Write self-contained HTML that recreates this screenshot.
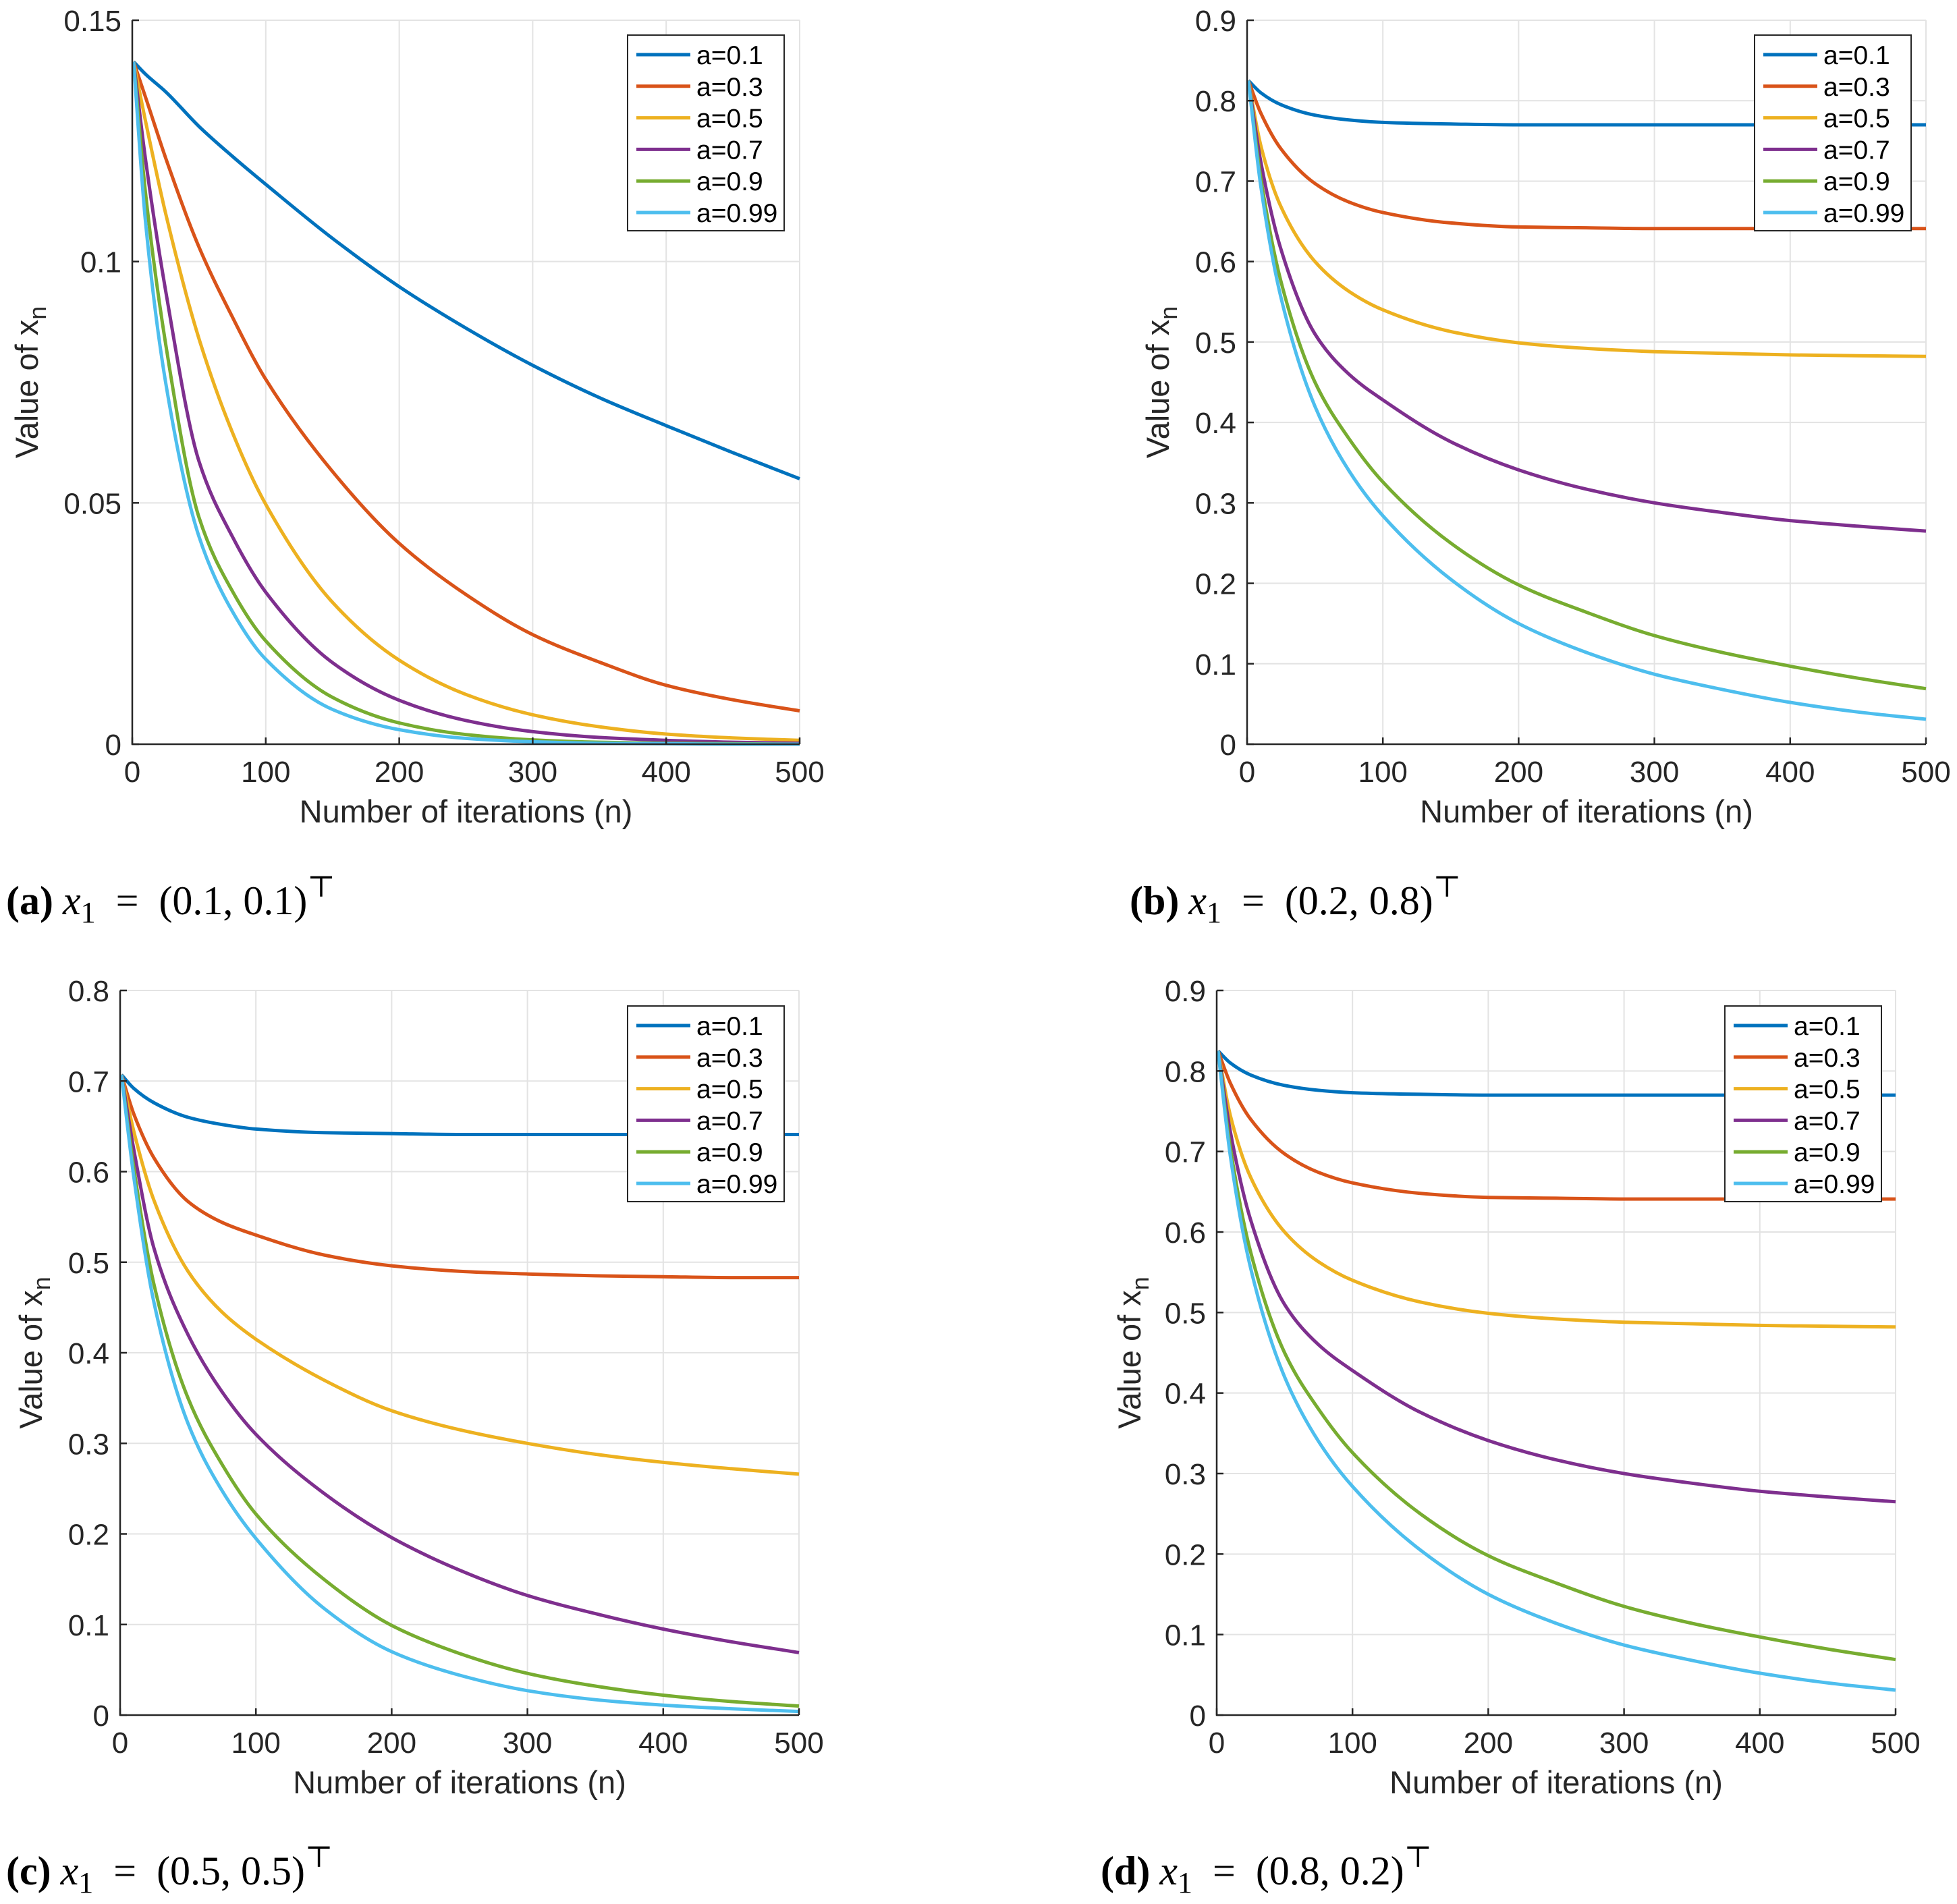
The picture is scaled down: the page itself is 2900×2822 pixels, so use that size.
<!DOCTYPE html>
<html><head><meta charset="utf-8">
<style>
html,body{margin:0;padding:0;background:#fff;}
svg{display:block;}
</style></head>
<body>
<svg id="fig" width="2900" height="2822" viewBox="0 0 2900 2822" xmlns="http://www.w3.org/2000/svg"></svg>
<script>
const iterN = [1,10,25,50,75,100,150,200,250,300,350,400,450,500];
const legendLabels = ["a=0.1","a=0.3","a=0.5","a=0.7","a=0.9","a=0.99"];
const seriesColors = ["#0072BD","#D95319","#EDB120","#7E2F8E","#77AC30","#4DBEEE"];
const xTicks = [0,100,200,300,400,500];

const panelA_a01 = [0.1414,0.1388,0.1352,0.128,0.1218,0.116,0.1048,0.0948,0.0862,0.0785,0.0718,0.066,0.0604,0.055];
const panelA_a03 = [0.1414,0.134,0.1215,0.103,0.0885,0.0756,0.0565,0.0416,0.031,0.0227,0.017,0.0122,0.0092,0.0069];
const panelA_a05 = [0.1414,0.129,0.11,0.084,0.0646,0.0497,0.0294,0.0174,0.0103,0.0061,0.0036,0.0021,0.0013,0.0008];
const panelA_a07 = [0.1414,0.121,0.094,0.0586,0.043,0.0315,0.0169,0.0091,0.0049,0.0026,0.0014,0.0008,0.0004,0.0002];
const panelA_a09 = [0.1414,0.114,0.083,0.047,0.0317,0.0214,0.0097,0.0044,0.002,0.0009,0.0004,0.0002,0.0001,0];
const panelA_a099 = [0.1414,0.108,0.075,0.043,0.0275,0.0176,0.0072,0.003,0.0012,0.0005,0.0002,0.0001,0,0];
const panelA_yTicks = [0,0.05,0.1,0.15];
const panelA_yTickLabels = ["0","0.05","0.1","0.15"];

const panelB_a01 = [0.825,0.81,0.795,0.782,0.776,0.773,0.771,0.770,0.770,0.770,0.770,0.770,0.770,0.770];
const panelB_a03 = [0.825,0.785,0.74,0.697,0.674,0.661,0.648,0.643,0.642,0.641,0.641,0.641,0.641,0.641];
const panelB_a05 = [0.825,0.745,0.668,0.60,0.563,0.54,0.513,0.499,0.492,0.488,0.486,0.484,0.483,0.482];
const panelB_a07 = [0.825,0.725,0.615,0.51,0.46,0.428,0.376,0.341,0.317,0.30,0.288,0.278,0.271,0.265];
const panelB_a09 = [0.825,0.705,0.575,0.45,0.38,0.326,0.25,0.198,0.164,0.135,0.114,0.097,0.082,0.069];
const panelB_a099 = [0.825,0.695,0.555,0.42,0.34,0.284,0.205,0.15,0.114,0.087,0.068,0.052,0.040,0.031];
const panelB_yTicks = [0,0.1,0.2,0.3,0.4,0.5,0.6,0.7,0.8,0.9];
const panelB_yTickLabels = ["0","0.1","0.2","0.3","0.4","0.5","0.6","0.7","0.8","0.9"];

const panelC_a01 = [0.707,0.692,0.676,0.66,0.652,0.647,0.643,0.642,0.641,0.641,0.641,0.641,0.641,0.641];
const panelC_a03 = [0.707,0.664,0.615,0.567,0.544,0.53,0.508,0.496,0.49,0.487,0.485,0.484,0.483,0.483];
const panelC_a05 = [0.707,0.645,0.568,0.49,0.445,0.415,0.37,0.336,0.315,0.30,0.288,0.279,0.272,0.266];
const panelC_a07 = [0.707,0.625,0.515,0.42,0.357,0.31,0.245,0.196,0.16,0.132,0.112,0.095,0.081,0.069];
const panelC_a09 = [0.707,0.605,0.475,0.35,0.277,0.222,0.15,0.099,0.068,0.046,0.032,0.022,0.015,0.010];
const panelC_a099 = [0.707,0.595,0.455,0.322,0.248,0.195,0.118,0.07,0.044,0.027,0.017,0.011,0.007,0.004];
const panelC_yTicks = [0,0.1,0.2,0.3,0.4,0.5,0.6,0.7,0.8];
const panelC_yTickLabels = ["0","0.1","0.2","0.3","0.4","0.5","0.6","0.7","0.8"];

const panelD_a01 = [0.825,0.81,0.795,0.782,0.776,0.773,0.771,0.770,0.770,0.770,0.770,0.770,0.770,0.770];
const panelD_a03 = [0.825,0.785,0.74,0.697,0.674,0.661,0.648,0.643,0.642,0.641,0.641,0.641,0.641,0.641];
const panelD_a05 = [0.825,0.745,0.668,0.60,0.563,0.54,0.513,0.499,0.492,0.488,0.486,0.484,0.483,0.482];
const panelD_a07 = [0.825,0.725,0.615,0.51,0.46,0.428,0.376,0.341,0.317,0.30,0.288,0.278,0.271,0.265];
const panelD_a09 = [0.825,0.705,0.575,0.45,0.38,0.326,0.25,0.198,0.164,0.135,0.114,0.097,0.082,0.069];
const panelD_a099 = [0.825,0.695,0.555,0.42,0.34,0.284,0.205,0.15,0.114,0.087,0.068,0.052,0.040,0.031];
const panelD_yTicks = [0,0.1,0.2,0.3,0.4,0.5,0.6,0.7,0.8,0.9];
const panelD_yTickLabels = ["0","0.1","0.2","0.3","0.4","0.5","0.6","0.7","0.8","0.9"];

const NS = "http://www.w3.org/2000/svg";
const svg = document.getElementById("fig");
function mk(tag, attrs, parent){
  const e = document.createElementNS(NS, tag);
  for (const k in attrs) e.setAttribute(k, attrs[k]);
  (parent||svg).appendChild(e);
  return e;
}
function monoPath(xs, ys){
  const n = xs.length, d=[], m=new Array(n);
  for(let i=0;i<n-1;i++) d.push((ys[i+1]-ys[i])/(xs[i+1]-xs[i]));
  m[0]=d[0]; m[n-1]=d[n-2];
  for(let i=1;i<n-1;i++){
    if(d[i-1]*d[i]<=0){m[i]=0;continue;}
    const w1=2*(xs[i+1]-xs[i])+(xs[i]-xs[i-1]), w2=(xs[i+1]-xs[i])+2*(xs[i]-xs[i-1]);
    m[i]=(w1+w2)/(w1/d[i-1]+w2/d[i]);
  }
  let p = "M"+xs[0].toFixed(1)+","+ys[0].toFixed(1);
  for(let i=0;i<n-1;i++){
    const h=(xs[i+1]-xs[i])/3;
    p += " C"+(xs[i]+h).toFixed(1)+","+(ys[i]+m[i]*h).toFixed(1)+" "+(xs[i+1]-h).toFixed(1)+","+(ys[i+1]-m[i+1]*h).toFixed(1)+" "+xs[i+1].toFixed(1)+","+ys[i+1].toFixed(1);
  }
  return p;
}

const panels = [
  {id:"a", L:196,R:1185,T:30,B:1103, yMax:0.15, yTicks:panelA_yTicks, yLab:panelA_yTickLabels, series:[panelA_a01,panelA_a03,panelA_a05,panelA_a07,panelA_a09,panelA_a099], legX:930, legY:52, ylabX:40, cap:{x:9,y:1355,txt:"(0.1, 0.1)"}},
  {id:"b", L:1848,R:2854,T:30,B:1103, yMax:0.9, yTicks:panelB_yTicks, yLab:panelB_yTickLabels, series:[panelB_a01,panelB_a03,panelB_a05,panelB_a07,panelB_a09,panelB_a099], legX:2600, legY:52, ylabX:1716, cap:{x:1674,y:1355,txt:"(0.2, 0.8)"}},
  {id:"c", L:178,R:1184,T:1468,B:2542, yMax:0.8, yTicks:panelC_yTicks, yLab:panelC_yTickLabels, series:[panelC_a01,panelC_a03,panelC_a05,panelC_a07,panelC_a09,panelC_a099], legX:930, legY:1491, ylabX:46, cap:{x:9,y:2793,txt:"(0.5, 0.5)"}},
  {id:"d", L:1803,R:2809,T:1468,B:2542, yMax:0.9, yTicks:panelD_yTicks, yLab:panelD_yTickLabels, series:[panelD_a01,panelD_a03,panelD_a05,panelD_a07,panelD_a09,panelD_a099], legX:2556, legY:1491, ylabX:1674, cap:{x:1631,y:2793,txt:"(0.8, 0.2)"}}
];

const FONT = '"Liberation Sans", Arial, sans-serif';
panels.forEach(P=>{
  const g = mk("g",{});
  
  
  const xs = v => P.L + (v/500)*(P.R-P.L);
  const ys = v => P.B - (v/P.yMax)*(P.B-P.T);
  xTicks.forEach(t=>{ const l=mk("line",{x1:xs(t),x2:xs(t),y1:P.T,y2:P.B,stroke:"#e3e3e3","stroke-width":2},g);
      });
  P.yTicks.forEach(t=>{ const l=mk("line",{x1:P.L,x2:P.R,y1:ys(t),y2:ys(t),stroke:"#e3e3e3","stroke-width":2},g);
      });
  P.series.forEach((vals,i)=>{
    const p = mk("path",{d:monoPath(iterN.map(xs), vals.map(ys)),fill:"none",stroke:seriesColors[i],"stroke-width":5,"stroke-linejoin":"round"},g);
    
    
  });
  const ax = mk("path",{d:`M${P.L},${P.T} L${P.L},${P.B} L${P.R},${P.B}`,fill:"none",stroke:"#262626","stroke-width":2.5},g);
   
  xTicks.forEach(t=>{
    mk("line",{x1:xs(t),x2:xs(t),y1:P.B,y2:P.B-10,stroke:"#262626","stroke-width":2.5},g);
    const tx = mk("text",{x:xs(t),y:P.B+56,"text-anchor":"middle","font-family":FONT,"font-size":44,fill:"#262626"},g);
    tx.textContent = t;
     
  });
  P.yTicks.forEach((t,i)=>{
    mk("line",{x1:P.L,x2:P.L+10,y1:ys(t),y2:ys(t),stroke:"#262626","stroke-width":2.5},g);
    const tx = mk("text",{x:P.L-16,y:ys(t)+16,"text-anchor":"end","font-family":FONT,"font-size":44,fill:"#262626"},g);
    tx.textContent = P.yLab[i];
     
  });
  const xt = mk("text",{x:(P.L+P.R)/2,y:P.B+116,"text-anchor":"middle","font-family":FONT,"font-size":47,fill:"#262626"},g);
  xt.textContent = "Number of iterations (n)";
   
  const cy = (P.T+P.B)/2;
  const yt = mk("text",{x:0,y:0,"text-anchor":"middle","font-family":FONT,"font-size":47,fill:"#262626",transform:`translate(${P.ylabX+16},${cy}) rotate(-90)`},g);
   
  const t1 = mk("tspan",{},yt); t1.textContent = "Value of x";
  const t2 = mk("tspan",{dy:12,"font-size":36},yt); t2.textContent = "n";
  const lg = mk("g",{},g);
   
  mk("rect",{x:P.legX,y:P.legY,width:232,height:290,fill:"#fff",stroke:"#262626","stroke-width":2},lg);
  legendLabels.forEach((lab,i)=>{
    const yy = P.legY + 29 + i*46.8;
    const e = mk("g",{},lg);
     
    mk("line",{x1:P.legX+13,x2:P.legX+93,y1:yy,y2:yy,stroke:seriesColors[i],"stroke-width":5},e);
    const tx = mk("text",{x:P.legX+102,y:yy+14,"font-family":FONT,"font-size":39,fill:"#000"},e);
    tx.textContent = lab;
  });
  const cap = mk("text",{x:P.cap.x,y:P.cap.y,"font-family":'"Liberation Serif", "DejaVu Serif", serif',"font-size":60,fill:"#000"});
   
  const c1 = mk("tspan",{"font-weight":"bold"},cap); c1.textContent = "("+P.id+")";
  const c2 = mk("tspan",{"font-style":"italic",dx:14},cap); c2.textContent = "x";
  const c3 = mk("tspan",{dy:12,"font-size":44},cap); c3.textContent = "1";
  const c4 = mk("tspan",{dy:-12},cap); c4.textContent = "\u2002=\u2002"+P.cap.txt;
  const c5 = mk("tspan",{dy:-26,"font-size":44},cap); c5.textContent = "\u22A4";
});
</script>
</body></html>
